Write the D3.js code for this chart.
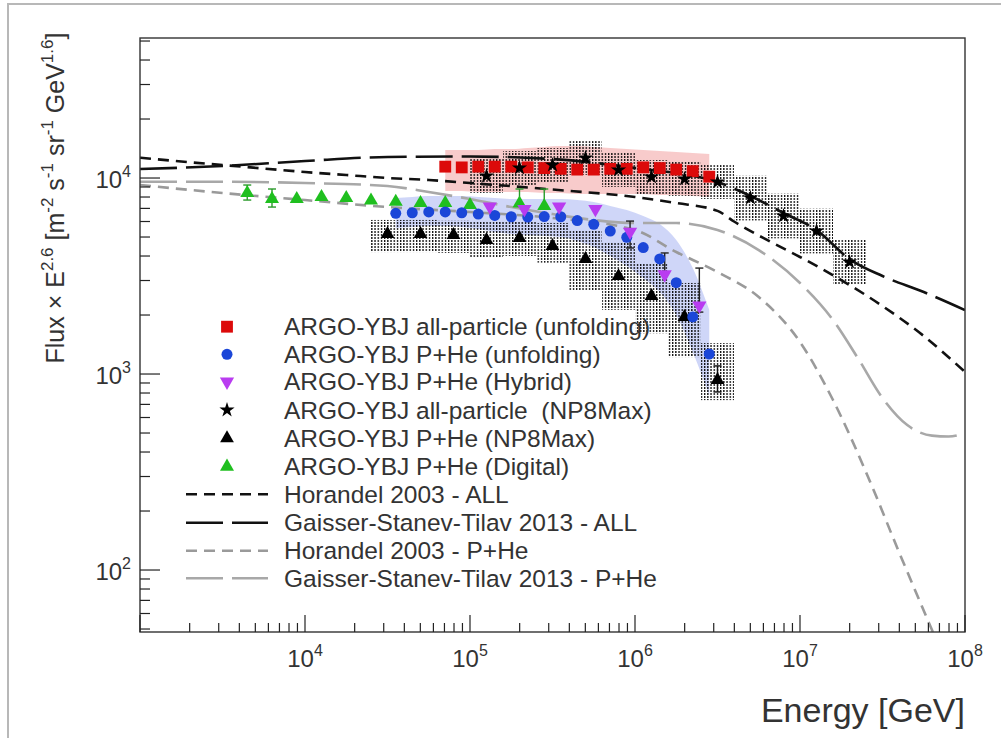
<!DOCTYPE html>
<html><head><meta charset="utf-8">
<script src="https://cdn.jsdelivr.net/npm/d3@7"></script>
<style>body{margin:0;background:#fff;} svg{display:block;font-family:"Liberation Sans",Arial,Helvetica,sans-serif;}</style>
</head><body><svg id="c" width="1001" height="738"></svg>
<script>
// ---------------- data (log10 of energy in GeV, flux*E^2.6) ----------------
const redLog10E = [4.85,4.95,5.05,5.15,5.25,5.35,5.45,5.55,5.65,5.75,5.85,5.95,6.05,6.15,6.25,6.35,6.45];
const redVal    = [11430,11330,11430,11430,11430,11330,11240,11140,11040,11040,11140,11140,11330,11240,11040,10840,10160];
const redBandHi = [13900,13900,13900,14060,14060,14230,14400,14570,14570,14400,14230,14060,13900,13730,13570,13410,13260];
const redBandLo = [8585,8585,8485,8485,8485,8485,8385,8385,8286,8286,8286,8286,8286,8190,8190,8094,8000];

const blueLog10E = [4.55,4.65,4.75,4.85,4.95,5.05,5.15,5.25,5.35,5.45,5.55,5.65,5.75,5.85,5.95,6.05,6.15,6.25,6.35,6.45];
const blueVal    = [6605,6650,6710,6710,6650,6550,6440,6345,6325,6360,6345,6070,5805,5365,4985,4420,3865,2925,1955,1265];
const blueBandHi = [7907,8000,8094,8094,8094,8000,7907,7815,7815,7815,7815,7722,7544,7200,6866,6400,5824,4828,3474,2120];
const blueBandLo = [5557,5623,5688,5688,5623,5492,5303,5180,5120,5060,5000,4772,4446,4000,3556,3090,2620,2000,1295,781];

const purpleLog10E = [5.12,5.33,5.54,5.76,5.97,6.18,6.39];
const purpleVal    = [7155,6950,7155,6950,5320,3220,2235];
const purpleErrHi  = [null,null,null,null,6030,4146,3472];
const purpleErrLo  = [null,null,null,null,4395,null,2070];

const starLog10E = [5.1,5.3,5.5,5.7,5.9,6.1,6.3,6.5,6.7,6.9,7.1,7.3];
const starVal    = [10240,11250,11660,12650,10990,10120,9890,9545,7900,6400,5365,3730];
const starSysHi  = [12490,13725,14225,15430,13410,12350,12070,11645,10270,8320,6975,4850];
const starSysLo  = [8393,9221,9557,10370,9008,8295,8107,7824,6077,4923,4127,2869];

const triLog10E = [4.5,4.7,4.9,5.1,5.3,5.5,5.7,5.9,6.1,6.3,6.5];
const triVal    = [5180,5180,5120,4830,4940,4500,3860,3160,2500,1955,933];
const triSysHi  = [6110,6110,6050,6000,6000,5900,5430,4660,3680,2915,1438];
const triSysLo  = [4190,4190,4150,3950,4000,3700,2680,2125,1614,1220,736];
const triErrHi  = [null,null,null,null,null,null,null,null,null,null,1100];
const triErrLo  = [null,null,null,null,null,null,null,null,null,null,810];

const greenLog10E = [3.65,3.8,3.95,4.1,4.25,4.4,4.55,4.7,4.85,5.0,5.3,5.45];
const greenVal    = [8385,7815,7815,8000,7910,7680,7570,7460,7460,7285,7415,7200];
const greenErrHi  = [9210,8790,null,null,null,null,null,null,null,null,8790,8790];
const greenErrLo  = [7720,7110,null,null,null,null,null,null,null,null,null,null];

const horAllLog10E = [3.0,3.25,3.5,3.75,4.0,4.25,4.5,4.75,5.0,5.5,6.0,6.25,6.5,6.6,6.8,7.0,7.25,7.5,7.75,8.0];
const horAllVal    = [12690,12140,11650,11180,10730,10360,10000,9770,9430,8735,8000,7455,6800,6000,4830,3955,3017,2222,1563,1024];
const gstAllLog10E = [3.0,3.5,4.0,4.5,5.0,5.5,6.0,6.5,6.7,6.9,7.1,7.3,7.5,7.75,8.0];
const gstAllVal    = [11115,11510,12210,12800,12870,12500,11250,9540,8094,6630,5430,3860,3162,2620,2120];
const horPHeLog10E = [3.0,3.5,4.0,4.5,5.0,5.5,6.0,6.25,6.5,6.75,7.0,7.2,7.4,7.6,7.8,7.95];
const horPHeVal    = [9210,8385,7720,7110,6705,6250,5430,4193,3314,2470,1456,737,316,123.5,49.4,25];
const gstPHeLog10E = [3.0,3.5,4.0,4.5,4.75,5.0,5.25,5.5,5.75,6.0,6.25,6.5,6.75,7.0,7.2,7.35,7.5,7.65,7.8,7.9,8.0];
const gstPHeVal    = [9575,9575,9430,9100,8485,7815,7110,6550,6105,5893,5893,5430,4290,2912,1886,1208,754,549,485,480,500];

const xTickLabels = [4,5,6,7,8];   // exponents
const yTickLabels = [2,3,4];

const legendLabels = [
  "ARGO-YBJ all-particle (unfolding)",
  "ARGO-YBJ P+He (unfolding)",
  "ARGO-YBJ P+He (Hybrid)",
  "ARGO-YBJ all-particle  (NP8Max)",
  "ARGO-YBJ P+He (NP8Max)",
  "ARGO-YBJ P+He (Digital)",
  "Horandel 2003 - ALL",
  "Gaisser-Stanev-Tilav 2013 - ALL",
  "Horandel 2003 - P+He",
  "Gaisser-Stanev-Tilav 2013 - P+He"
];

// ---------------- layout ----------------
const L = 140, R = 965, T = 38, B = 632;
const svg = d3.select("#c");
const x = d3.scaleLog().domain([1e3, 1e8]).range([L, R]);
const y = d3.scaleLog().domain([48.28, 51810]).range([B, T]);
const E = l => Math.pow(10, l);
const TXT = "#333";

const defs = svg.append("defs");
const pat = defs.append("pattern").attr("id","hatch").attr("patternUnits","userSpaceOnUse")
  .attr("width",3.2).attr("height",3);
pat.append("rect").attr("x",0).attr("y",0).attr("width",1.3).attr("height",2).attr("fill","#000");
defs.append("clipPath").attr("id","clip").append("rect")
  .attr("x",L).attr("y",T).attr("width",R-L).attr("height",B-T);

// outer image border
svg.append("path").attr("d","M8,738 V4 H1001").attr("fill","none").attr("stroke","#b8b8b8").attr("stroke-width",2);

const g = svg.append("g").attr("clip-path","url(#clip)");

// bands
const area = d3.area().x(d=>x(E(d[0]))).y0(d=>y(d[2])).y1(d=>y(d[1])).curve(d3.curveMonotoneX);
g.append("path").datum(redLog10E.map((l,i)=>[l,redBandHi[i],redBandLo[i]]))
  .attr("d",area).attr("fill","rgba(238,130,130,0.42)");
g.append("path").datum(blueLog10E.map((l,i)=>[l,blueBandHi[i],blueBandLo[i]]))
  .attr("d",area).attr("fill","rgba(110,130,235,0.33)");

// hatched systematic boxes
function hatchBoxes(ls, hi, lo){
  g.append("g").selectAll("rect").data(ls).join("rect")
    .attr("x",(l)=>x(E(l-0.1))).attr("width",(l)=>x(E(l+0.1))-x(E(l-0.1)))
    .attr("y",(l,i)=>y(hi[i])).attr("height",(l,i)=>y(lo[i])-y(hi[i]))
    .attr("fill","url(#hatch)").attr("opacity",0.95);
}
hatchBoxes(triLog10E, triSysHi, triSysLo);
hatchBoxes(starLog10E, starSysHi, starSysLo);

// model lines
const line = d3.line().x(d=>x(E(d[0]))).y(d=>y(d[1])).curve(d3.curveMonotoneX);
function model(ls, vs, color, dash){
  g.append("path").datum(ls.map((l,i)=>[l,vs[i]])).attr("d",line)
    .attr("fill","none").attr("stroke",color).attr("stroke-width",2.6).attr("stroke-dasharray",dash);
}
const SHORT = "11,7", LONG = "37,9";
model(horPHeLog10E, horPHeVal, "#9a9a9a", SHORT);
model(gstPHeLog10E, gstPHeVal, "#a8a8a8", LONG);
model(horAllLog10E, horAllVal, "#111", SHORT);
model(gstAllLog10E, gstAllVal, "#111", LONG);

// error bars
function errBars(ls, hi, lo, vals, color){
  ls.forEach((l,i)=>{
    const xx = x(E(l));
    [hi[i], lo[i]].forEach(e=>{
      if(e==null) return;
      g.append("line").attr("x1",xx).attr("x2",xx).attr("y1",y(vals[i])).attr("y2",y(e))
        .attr("stroke",color).attr("stroke-width",1.4);
      g.append("line").attr("x1",xx-4).attr("x2",xx+4).attr("y1",y(e)).attr("y2",y(e))
        .attr("stroke",color).attr("stroke-width",1.4);
    });
  });
}
errBars(purpleLog10E, purpleErrHi, purpleErrLo, purpleVal, "#222");
errBars(triLog10E, triErrHi, triErrLo, triVal, "#111");
errBars(greenLog10E, greenErrHi, greenErrLo, greenVal, "#2a9a2a");

// markers
const SYM = {
  square: d3.symbol().type(d3.symbolSquare).size(140)(),
  circle: d3.symbol().type(d3.symbolCircle).size(95)(),
  tri: d3.symbol().type(d3.symbolTriangle).size(82)(),
  triP: d3.symbol().type(d3.symbolTriangle).size(88)(),
  triG: d3.symbol().type(d3.symbolTriangle).size(85)(),
  star: d3.symbol().type(d3.symbolStar).size(72)()
};
function markers(ls, vs, path, color, rot){
  g.append("g").selectAll("path").data(ls).join("path")
    .attr("d",path).attr("fill",color)
    .attr("transform",(l,i)=>`translate(${x(E(l))},${y(vs[i])})${rot?" rotate(180)":""}`);
}
markers(greenLog10E, greenVal, SYM.triG, "#1fbf1f");
markers(triLog10E, triVal, SYM.tri, "#000");
markers(redLog10E, redVal, SYM.square, "#dc0a0a");
markers(blueLog10E, blueVal, SYM.circle, "#1b46d8");
markers(purpleLog10E, purpleVal, SYM.triP, "#b93cf0", true);
markers(starLog10E, starVal, SYM.star, "#000");

// frame
svg.append("rect").attr("x",L).attr("y",T).attr("width",R-L).attr("height",B-T)
  .attr("fill","none").attr("stroke","#333").attr("stroke-width",1.4);

// x ticks
const ax = svg.append("g");
x.ticks().forEach(v=>{
  const lg = Math.log10(v); const major = Math.abs(lg-Math.round(lg))<1e-9;
  ax.append("line").attr("x1",x(v)).attr("x2",x(v)).attr("y1",B).attr("y2",B-(major?17:9))
    .attr("stroke","#222").attr("stroke-width",1.2);
});
xTickLabels.forEach(k=>{
  const t = ax.append("text").attr("x",x(E(k))).attr("y",667).attr("text-anchor","middle")
    .attr("fill",TXT).attr("font-size",24);
  t.append("tspan").text("10");
  t.append("tspan").attr("dy",-11).attr("font-size",16).text(k);
});
// y ticks
y.ticks().forEach(v=>{
  const lg = Math.log10(v); const major = Math.abs(lg-Math.round(lg))<1e-9;
  ax.append("line").attr("x1",L).attr("x2",L+(major?20:10)).attr("y1",y(v)).attr("y2",y(v))
    .attr("stroke","#222").attr("stroke-width",1.2);
});
yTickLabels.forEach(k=>{
  const t = ax.append("text").attr("x",131).attr("y",y(E(k))+10).attr("text-anchor","end")
    .attr("fill",TXT).attr("font-size",24);
  t.append("tspan").text("10");
  t.append("tspan").attr("dy",-11).attr("font-size",16).text(k);
});

// axis titles
svg.append("text").attr("x",965).attr("y",722).attr("text-anchor","end")
  .attr("fill",TXT).attr("font-size",34).text("Energy [GeV]");
const yt = svg.append("text").attr("transform","translate(64,198) rotate(-90)")
  .attr("text-anchor","middle").attr("fill",TXT).attr("font-size",25);
[["Flux × E",0],["2.6",1],[" [m",0],["-2",1],[" s",0],["-1",1],[" sr",0],["-1",1],[" GeV",0],["1.6",1],["]",0]]
  .reduce((prevSup,[s,sup])=>{
    const ts = yt.append("tspan").text(s).style("white-space","pre");
    if(sup){ ts.attr("font-size",17).attr("dy", prevSup?0:-11); }
    else { ts.attr("dy", prevSup?11:0); }
    return sup;
  },0);

// legend
const legY = [326.7,354.3,381.7,410,438.3,466.7,494.3,522.7,550.7,578.3];
const leg = svg.append("g");
const legMarks = [
  [SYM.square,"#dc0a0a",false],[SYM.circle,"#1b46d8",false],[SYM.triP,"#b93cf0",true],
  [SYM.star,"#000",false],[SYM.tri,"#000",false],[SYM.triG,"#1fbf1f",false]
];
const legLines = [["#111",SHORT],["#111",LONG],["#9a9a9a",SHORT],["#a8a8a8",LONG]];
legendLabels.forEach((lab,i)=>{
  const yy = legY[i];
  if(i<6){
    const [p,c,rot] = legMarks[i];
    leg.append("path").attr("d",p).attr("fill",c)
      .attr("transform",`translate(227,${yy})${rot?" rotate(180)":""}`);
  } else {
    const [c,d] = legLines[i-6];
    leg.append("line").attr("x1",186).attr("x2",268).attr("y1",yy).attr("y2",yy)
      .attr("stroke",c).attr("stroke-width",2.6).attr("stroke-dasharray",d);
  }
  leg.append("text").attr("x",284).attr("y",yy+8.5).attr("fill",TXT).attr("font-size",24.5)
    .style("white-space","pre").text(lab);
});
</script></body></html>
